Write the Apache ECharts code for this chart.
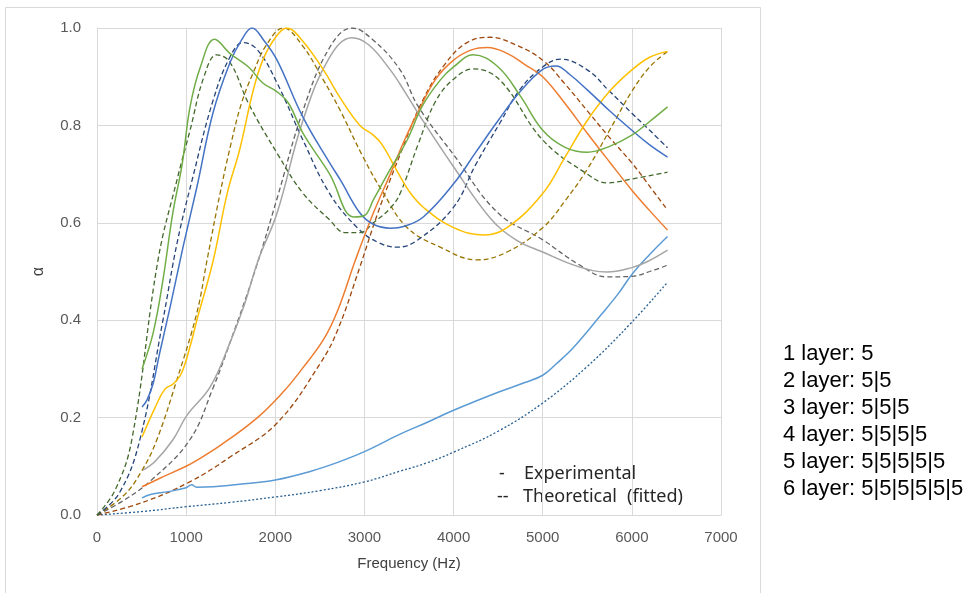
<!DOCTYPE html>
<html>
<head>
<meta charset="utf-8">
<title>Absorption coefficient</title>
<script src="https://cdn.jsdelivr.net/npm/echarts@6/dist/echarts.min.js"></script>
<style>
    html, body { margin: 0; padding: 0; background: #fff; }
    #chart { width: 968px; height: 593px; }
</style>
</head>
<body>
<div id="chart"></div>
<script>
// axis ticks
var freqTicks = [0, 1000, 2000, 3000, 4000, 5000, 6000, 7000];
var alphaTicks = [0, 0.2, 0.4, 0.6, 0.8, 1.0];

// layer labels (right side)
var layerNames = ['1 layer: 5', '2 layer: 5|5', '3 layer: 5|5|5', '4 layer: 5|5|5|5', '5 layer: 5|5|5|5|5', '6 layer: 5|5|5|5|5|5'];

// experimental curves [Hz, alpha]
var exp1 = [[505,0.035],[600,0.042],[800,0.048],[1000,0.056],[1060,0.062],[1120,0.057],[1300,0.058],[1600,0.063],[2000,0.072],[2400,0.09],[2700,0.108],[3000,0.13],[3400,0.166],[3700,0.19],[4000,0.215],[4500,0.252],[4800,0.272],[5000,0.287],[5150,0.31],[5350,0.345],[5650,0.41],[5850,0.455],[6000,0.494],[6200,0.535],[6400,0.572]];
var exp2 = [[505,0.058],[700,0.075],[1000,0.1],[1100,0.11],[1400,0.145],[1800,0.2],[2100,0.255],[2300,0.3],[2540,0.36],[2700,0.42],[2900,0.524],[3100,0.62],[3290,0.7],[3450,0.77],[3630,0.838],[3800,0.895],[4000,0.934],[4200,0.955],[4380,0.96],[4600,0.948],[4800,0.925],[5000,0.9],[5250,0.845],[5500,0.784],[5750,0.725],[6000,0.667],[6200,0.625],[6400,0.585]];
var exp3 = [[515,0.092],[650,0.11],[850,0.154],[1010,0.205],[1270,0.263],[1490,0.353],[1650,0.43],[1810,0.524],[2020,0.62],[2310,0.81],[2610,0.94],[2860,0.98],[3050,0.965],[3290,0.914],[3450,0.87],[3630,0.817],[4000,0.715],[4410,0.61],[4700,0.565],[5000,0.54],[5400,0.51],[5720,0.499],[6000,0.508],[6170,0.52],[6400,0.544]];
var exp4 = [[505,0.16],[650,0.22],[760,0.258],[860,0.27],[950,0.292],[1050,0.35],[1120,0.4],[1300,0.52],[1460,0.66],[1600,0.75],[1750,0.87],[1860,0.934],[2000,0.98],[2130,1.0],[2300,0.975],[2540,0.914],[2730,0.856],[2950,0.8],[3100,0.78],[3200,0.76],[3370,0.705],[3500,0.665],[3660,0.632],[4000,0.59],[4350,0.575],[4600,0.59],[5000,0.66],[5250,0.735],[5500,0.81],[5750,0.87],[6000,0.914],[6200,0.94],[6400,0.952]];
var exp5 = [[505,0.222],[560,0.236],[630,0.27],[700,0.33],[820,0.427],[965,0.55],[1120,0.673],[1300,0.825],[1490,0.928],[1620,0.975],[1740,1.0],[1870,0.975],[2020,0.934],[2310,0.817],[2610,0.723],[2730,0.688],[2950,0.62],[3100,0.597],[3290,0.589],[3450,0.593],[3660,0.612],[4000,0.68],[4250,0.745],[4500,0.81],[4750,0.87],[5000,0.915],[5150,0.922],[5300,0.905],[5500,0.873],[5750,0.83],[6000,0.79],[6200,0.76],[6400,0.735]];
var exp6 = [[505,0.3],[630,0.374],[740,0.483],[850,0.62],[955,0.72],[1044,0.838],[1160,0.92],[1320,0.977],[1490,0.948],[1700,0.92],[1860,0.887],[2020,0.869],[2150,0.845],[2310,0.784],[2610,0.7],[2880,0.612],[3000,0.615],[3100,0.647],[3290,0.71],[3480,0.77],[3650,0.84],[3850,0.893],[4000,0.92],[4220,0.945],[4500,0.92],[4750,0.86],[5000,0.79],[5250,0.755],[5500,0.745],[5750,0.757],[6000,0.78],[6200,0.808],[6400,0.838]];

// theoretical (fitted) curves [Hz, alpha]
var fit1 = [[0,0],[500,0.007],[1000,0.017],[1500,0.026],[2000,0.037],[2500,0.05],[3000,0.068],[3400,0.09],[3700,0.107],[4000,0.129],[4500,0.172],[5000,0.23],[5500,0.305],[6000,0.396],[6400,0.478]];
var fit2 = [[0,0],[500,0.025],[1040,0.068],[1500,0.12],[2020,0.189],[2500,0.31],[2700,0.38],[2950,0.51],[3150,0.62],[3400,0.74],[3650,0.85],[3900,0.925],[4150,0.97],[4410,0.981],[4700,0.965],[5000,0.934],[5250,0.885],[5500,0.83],[5750,0.775],[6000,0.723],[6200,0.675],[6400,0.626]];
var fit3 = [[0,0],[300,0.03],[600,0.07],[1040,0.154],[1300,0.26],[1490,0.353],[1770,0.5],[2020,0.65],[2310,0.83],[2610,0.96],[2860,1.0],[3100,0.975],[3400,0.914],[3600,0.84],[4000,0.74],[4500,0.62],[5000,0.565],[5400,0.515],[5720,0.489],[6000,0.49],[6200,0.5],[6400,0.513]];
var fit4 = [[0,0],[300,0.04],[500,0.09],[670,0.154],[900,0.28],[1120,0.415],[1235,0.524],[1380,0.66],[1500,0.76],[1620,0.845],[1750,0.907],[1900,0.965],[2090,1.0],[2300,0.965],[2540,0.893],[2730,0.83],[2985,0.735],[3200,0.665],[3480,0.59],[3850,0.55],[4265,0.524],[4600,0.54],[5000,0.59],[5250,0.645],[5500,0.71],[5750,0.79],[6000,0.87],[6200,0.92],[6400,0.952]];
var fit5 = [[0,0],[250,0.045],[480,0.154],[740,0.4],[900,0.56],[1070,0.69],[1300,0.85],[1490,0.94],[1640,0.97],[1800,0.955],[2020,0.887],[2310,0.77],[2610,0.66],[2920,0.59],[3150,0.56],[3370,0.55],[3600,0.565],[4000,0.632],[4250,0.72],[4520,0.805],[4750,0.875],[5000,0.92],[5200,0.936],[5500,0.914],[5750,0.87],[6000,0.825],[6200,0.79],[6400,0.754]];
var fit6 = [[0,0],[200,0.05],[390,0.154],[685,0.524],[900,0.69],[1044,0.79],[1200,0.9],[1345,0.945],[1490,0.93],[1700,0.845],[2020,0.743],[2310,0.661],[2610,0.606],[2780,0.58],[2950,0.58],[3100,0.6],[3290,0.63],[3400,0.66],[3600,0.76],[3800,0.85],[4000,0.895],[4220,0.916],[4520,0.893],[5000,0.77],[5500,0.7],[5720,0.682],[6000,0.69],[6400,0.704]];

var expColors = ['#5B9BD5', '#ED7D31', '#A5A5A5', '#FFC000', '#4472C4', '#70AD47'];
var fitColors = ['#255E91', '#9E480E', '#636363', '#997300', '#264478', '#43682B'];

var expData = [exp1, exp2, exp3, exp4, exp5, exp6];
var fitData = [fit1, fit2, fit3, fit4, fit5, fit6];

var chart = echarts.init(document.getElementById('chart'));

var series = [];
// theoretical lines first (drawn underneath)
for (var i = 0; i < fitData.length; i++) {
    series.push({
        name: 'fit' + (i + 1),
        type: 'line',
        data: fitData[i],
        showSymbol: false,
        smooth: 0.4,
        silent: true,
        lineStyle: {
            color: fitColors[i],
            width: 1.3,
            type: i === 0 ? [2, 2] : [5, 3]
        }
    });
}
for (var j = 0; j < expData.length; j++) {
    series.push({
        name: 'exp' + (j + 1),
        type: 'line',
        data: expData[j],
        showSymbol: false,
        smooth: 0.4,
        silent: true,
        lineStyle: {
            color: expColors[j],
            width: 1.5
        }
    });
}

var labelFont = 'Liberation Sans, Arial, sans-serif';
var noteFont = '18px "Noto Sans", sans-serif';

// text legend inside the plot
var notes = [
    ['-', 499, 474], ['Experimental', 524, 474],
    ['--', 497, 497], ['Theoretical', 523, 497], ['(fitted)', 627, 497]
];

var graphics = [{
    type: 'rect',
    z: -10,
    shape: { x: 5.5, y: 7.5, width: 755, height: 620 },
    style: { fill: 'none', stroke: '#d9d9d9', lineWidth: 1 }
}];

for (var n = 0; n < notes.length; n++) {
    graphics.push({
        type: 'text',
        x: notes[n][1],
        y: notes[n][2],
        style: { text: notes[n][0], font: noteFont, fill: '#262626', verticalAlign: 'middle' }
    });
}

// layer labels on the right
for (var k = 0; k < layerNames.length; k++) {
    graphics.push({
        type: 'text',
        x: 783,
        y: 354 + k * 27,
        style: { text: layerNames[k], font: '22px ' + labelFont, fill: '#000000', verticalAlign: 'middle' }
    });
}

var option = {
    animation: false,
    backgroundColor: '#ffffff',
    grid: {
        left: 97,
        right: 247,
        top: 28,
        bottom: 78
    },
    xAxis: {
        type: 'value',
        min: freqTicks[0],
        max: freqTicks[freqTicks.length - 1],
        interval: 1000,
        name: 'Frequency (Hz)',
        nameLocation: 'middle',
        nameGap: 41,
        nameTextStyle: { color: '#404040', fontSize: 15, fontFamily: labelFont },
        axisLine: { show: true, lineStyle: { color: '#d9d9d9' } },
        axisTick: { show: false },
        axisLabel: {
            color: '#595959', fontSize: 15, fontFamily: labelFont, margin: 15,
            formatter: function (v) { return String(v); }
        },
        splitLine: { show: true, lineStyle: { color: '#d9d9d9' } }
    },
    yAxis: {
        type: 'value',
        min: alphaTicks[0],
        max: alphaTicks[alphaTicks.length - 1],
        interval: 0.2,
        name: 'α',
        nameLocation: 'middle',
        nameRotate: 90,
        nameGap: 50,
        nameTextStyle: { color: '#404040', fontSize: 16, fontFamily: labelFont },
        axisLine: { show: true, lineStyle: { color: '#d9d9d9' } },
        axisTick: { show: false },
        axisLabel: {
            color: '#595959', fontSize: 15, fontFamily: labelFont, margin: 16,
            formatter: function (v) { return v.toFixed(1); }
        },
        splitLine: { show: true, lineStyle: { color: '#d9d9d9' } }
    },
    graphic: graphics,
    series: series
};

chart.setOption(option);
</script>
</body>
</html>
